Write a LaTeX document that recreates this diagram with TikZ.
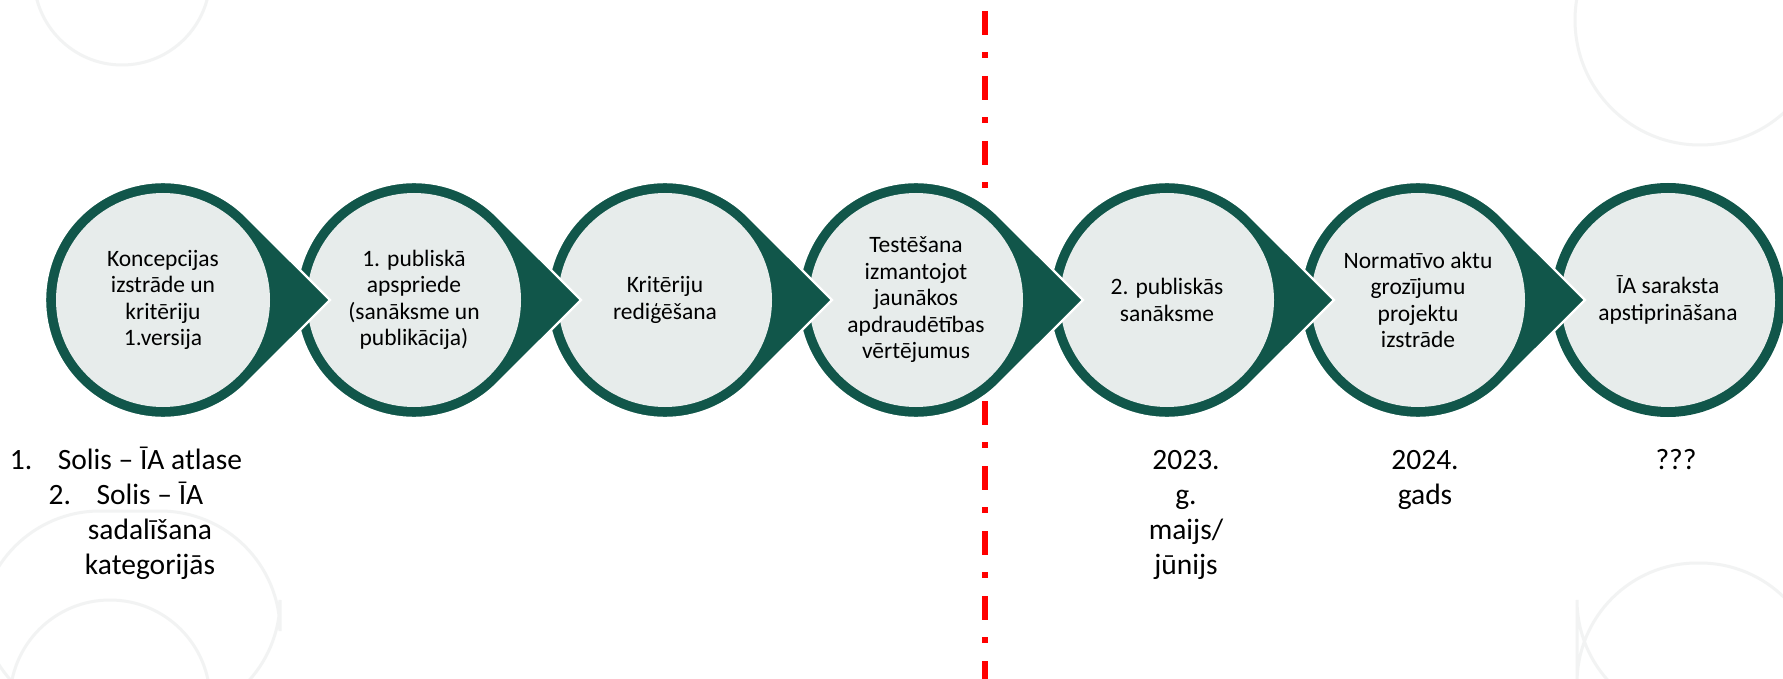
\documentclass[tikz,border=0pt]{standalone}
\usepackage{fontspec}
\setmainfont{Carlito}

\definecolor{zals}{RGB}{17,86,74}
\definecolor{gaiss}{RGB}{231,236,235}
\definecolor{fonakrasa}{RGB}{242,243,243}

\begin{document}
\begin{tikzpicture}[x=0.5pt,y=0.5pt,
    solis/.style={circle, inner sep=0pt, minimum size=107pt, fill=gaiss,
        align=center, font=\fontsize{11.75}{13.25}\selectfont},
    bulta/.style={fill=zals, draw=white, line width=1.2pt},
    piezime/.style={anchor=north, inner sep=0pt, align=center,
        font=\fontsize{14.75}{17.5}\selectfont},
    robeza/.style={red, line width=3.3pt,
        dash pattern=on 11.9pt off 8.7pt on 2.8pt off 9.1pt},
    fonlinija/.style={draw=fonakrasa, line width=1.5pt},
]

\useasboundingbox (0,0) rectangle (1783,-679);
\fill[white] (0,0) rectangle (1783,-679);

% fona raksts
\begin{scope}
\clip (0,0) rectangle (1783,-679);
\draw[fonlinija] (122,23) circle (88);
\draw[fonlinija] (110,-700) circle (100);
\draw[fonlinija, rounded corners=60] (-20,-511) rectangle (280,-720);
\draw[fonlinija] (1700,-20) circle (125);
\draw[fonlinija, rounded corners=60] (1577,-563) rectangle (1820,-720);
\end{scope}

% sarkanā robeža
\coordinate (r1) at (985,-11);
\coordinate (r2) at (985,-679);
\draw[robeza] (r1) -- (r2);

% pēdējais solis bez bultas
\fill[zals] (1668,-300) circle (117);
\node[solis] (s7) at (1668,-300) {ĪA saraksta\\ apstiprināšana};

% pārējie soļi no labās uz kreiso
\foreach \i/\teksts in {6/{Normatīvo aktu\\ grozījumu\\ projektu\\ izstrāde},
    5/{2. publiskās\\ sanāksme},
    4/{Testēšana\\ izmantojot\\ jaunākos\\ apdraudētības\\ vērtējumus},
    3/{Kritēriju\\ rediģēšana},
    2/{1. publiskā\\ apspriede\\ (sanāksme un\\ publikācija)},
    1/{Koncepcijas\\ izstrāde un\\ kritēriju\\ 1.versija}}{
  \pgfmathsetmacro{\xc}{163+251*(\i-1)}
  \path[bulta] (\xc,-300) ++(45:118) arc[start angle=45, end angle=315, radius=118]
      -- (\xc+167,-300) -- cycle;
  \node[solis] (s\i) at (\xc,-300) {\teksts};
}

% piezīmes zem soļiem
\node[piezime] (soli) at (150,-445)
    {\strut\llap{\makebox[24pt][l]{1.}}Solis – ĪA atlase\\
     \llap{\makebox[24pt][l]{2.}}Solis – ĪA\\ sadalīšana\\ kategorijās};
\node[piezime] (laiks5) at (1186,-445) {\strut 2023.\\ g.\\ maijs/\\ jūnijs};
\node[piezime] (laiks6) at (1425,-445) {\strut 2024.\\ gads};
\node[piezime] (laiks7) at (1676,-445) {\strut ???};

\end{tikzpicture}
\end{document}
